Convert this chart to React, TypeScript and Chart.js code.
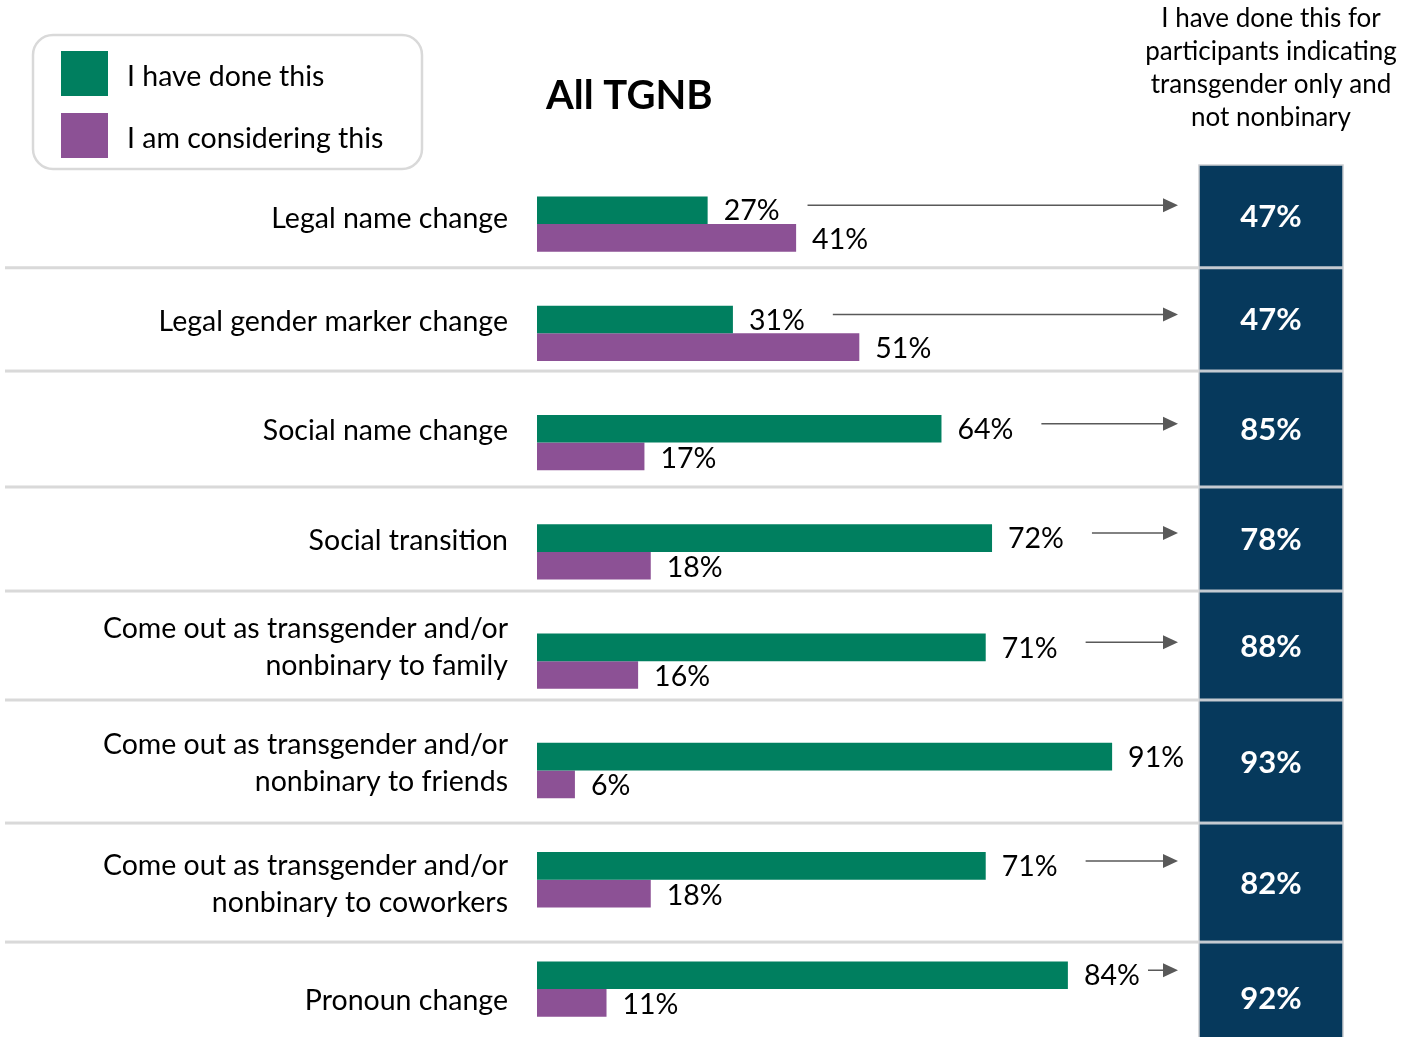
import React, { useEffect, useRef } from "react";
import { Chart, registerables } from "chart.js";

Chart.register(...registerables);

const categories: string[][] = [
  ["Legal name change"],
  ["Legal gender marker change"],
  ["Social name change"],
  ["Social transition"],
  ["Come out as transgender and/or", "nonbinary to family"],
  ["Come out as transgender and/or", "nonbinary to friends"],
  ["Come out as transgender and/or", "nonbinary to coworkers"],
  ["Pronoun change"],
];
const doneValues = [27, 31, 64, 72, 71, 91, 71, 84];
const consideringValues = [41, 51, 17, 18, 16, 6, 18, 11];
const transOnlyValues = [47, 47, 85, 78, 88, 93, 82, 92];
// row separators, in category units (category i centred at i)
const rowBounds = [-0.54, 0.4, 1.345, 2.406, 3.358, 4.355, 5.481, 6.57, 7.6];
const seriesLabels = ["I have done this", "I am considering this"];
const chartTitle = "All TGNB";
const sideHeader = [
  "I have done this for",
  "participants indicating",
  "transgender only and",
  "not nonbinary",
];

const GREEN = "#007f5f";
const PURPLE = "#8c5195";
const NAVY = "#06395c";
const FONT = "Lato, 'Open Sans', sans-serif";

export default function App() {
  const ref = useRef<HTMLCanvasElement | null>(null);
  useEffect(() => {
    const canvas = ref.current;
    if (!canvas) return;
    const panelLeft = 1199;
    const panelRight = 1343;

    const deco = {
      id: "deco",
      beforeDatasetsDraw(chart: any) {
        const ctx = chart.ctx;
        const y = chart.scales.y;
        const c0 = y.getPixelForValue(0);
        const sp = y.getPixelForValue(1) - c0;
        const bpx = (b: number) => c0 + b * sp;
        ctx.save();
        ctx.fillStyle = NAVY;
        const pTop = bpx(rowBounds[0]);
        const pBot = bpx(rowBounds[rowBounds.length - 1]);
        ctx.fillRect(panelLeft, pTop, panelRight - panelLeft, pBot - pTop);
        ctx.strokeStyle = "#c9ccd0";
        ctx.lineWidth = 1.5;
        ctx.strokeRect(panelLeft, pTop, panelRight - panelLeft, pBot - pTop);
        for (let i = 1; i < rowBounds.length - 1; i++) {
          const py = bpx(rowBounds[i]);
          ctx.fillStyle = "#d9d9d9";
          ctx.fillRect(5, py - 1.5, panelLeft - 5, 3);
          ctx.fillStyle = "#c4cad1";
          ctx.fillRect(panelLeft, py - 1.5, panelRight - panelLeft, 3);
        }
        // legend box
        ctx.strokeStyle = "#d9d9d9";
        ctx.lineWidth = 2.5;
        ctx.beginPath();
        (ctx as any).roundRect(33, 35, 389, 134, 20);
        ctx.stroke();
        const cols = [GREEN, PURPLE];
        const ly = [74, 136];
        ctx.font = `28.5px ${FONT}`;
        ctx.textBaseline = "middle";
        ctx.textAlign = "left";
        for (let i = 0; i < 2; i++) {
          ctx.fillStyle = cols[i];
          ctx.fillRect(61, ly[i] - 23, 47, 45);
          ctx.fillStyle = "#000";
          ctx.fillText(seriesLabels[i], 127, ly[i] + 3);
        }
        ctx.font = `bold 40px ${FONT}`;
        ctx.fillStyle = "#000";
        ctx.fillText(chartTitle, 546, 96);
        ctx.font = `26px ${FONT}`;
        ctx.textAlign = "center";
        sideHeader.forEach((t, i) => ctx.fillText(t, 1271, 19 + i * 33));
        ctx.restore();
      },
      afterDatasetsDraw(chart: any) {
        const ctx = chart.ctx;
        const y = chart.scales.y;
        const c0 = y.getPixelForValue(0);
        const sp = y.getPixelForValue(1) - c0;
        const bpx = (b: number) => c0 + b * sp;
        const m0 = chart.getDatasetMeta(0);
        const m1 = chart.getDatasetMeta(1);
        ctx.save();
        ctx.textBaseline = "middle";
        for (let i = 0; i < categories.length; i++) {
          const g = m0.data[i];
          const p = m1.data[i];
          const gt = `${doneValues[i]}%`;
          ctx.font = `28.5px ${FONT}`;
          ctx.textAlign = "left";
          ctx.fillStyle = "#000";
          ctx.fillText(gt, g.x + 16, g.y + 1);
          ctx.fillText(`${consideringValues[i]}%`, p.x + 16, p.y + 2);
          // arrow
          const labelEnd = g.x + 16 + ctx.measureText(gt).width;
          const end = panelLeft - 21;
          const avail = end - labelEnd;
          if (avail >= 30) {
            const start = labelEnd + Math.min(28, avail - 30);
            const ay = g.y - 5;
            ctx.strokeStyle = "#595959";
            ctx.lineWidth = 1.5;
            ctx.beginPath();
            ctx.moveTo(start, ay);
            ctx.lineTo(end - 12, ay);
            ctx.stroke();
            ctx.fillStyle = "#595959";
            ctx.beginPath();
            ctx.moveTo(end - 15, ay - 7);
            ctx.lineTo(end, ay);
            ctx.lineTo(end - 15, ay + 7);
            ctx.closePath();
            ctx.fill();
          }
          // category labels
          const mid = (bpx(rowBounds[i]) + bpx(rowBounds[i + 1])) / 2;
          const lines = categories[i];
          ctx.fillStyle = "#000";
          ctx.textAlign = "right";
          lines.forEach((t, k) => {
            ctx.fillText(t, 508, mid + 2 + (k - (lines.length - 1) / 2) * 37);
          });
          // panel values
          ctx.textAlign = "center";
          ctx.font = `bold 31px ${FONT}`;
          ctx.fillStyle = "#fff";
          ctx.fillText(`${transOnlyValues[i]}%`, (panelLeft + panelRight) / 2, mid + 1);
        }
        ctx.restore();
      },
    };

    const chart = new Chart(canvas, {
      type: "bar",
      data: {
        labels: categories.map((c) => c.join(" ")),
        datasets: [
          { label: seriesLabels[0], data: doneValues, backgroundColor: GREEN },
          { label: seriesLabels[1], data: consideringValues, backgroundColor: PURPLE },
        ],
      },
      options: {
        indexAxis: "y",
        animation: false,
        responsive: false,
        events: [],
        layout: { padding: { left: 537, right: 247, top: 169.4, bottom: 16.3 } },
        datasets: { bar: { categoryPercentage: 0.506, barPercentage: 1, borderWidth: 0 } } as any,
        scales: {
          x: { display: false, min: 0, max: 100 },
          y: { display: false },
        },
        plugins: { legend: { display: false }, tooltip: { enabled: false } },
      },
      plugins: [deco],
    });
    return () => chart.destroy();
  }, []);

  return (
    <div style={{ position: "fixed", left: 0, top: 0, width: 1416, height: 1037, overflow: "hidden", background: "#fff" }}>
      <canvas ref={ref} width={1416} height={1060} style={{ display: "block", width: 1416, height: 1060 }} />
    </div>
  );
}
